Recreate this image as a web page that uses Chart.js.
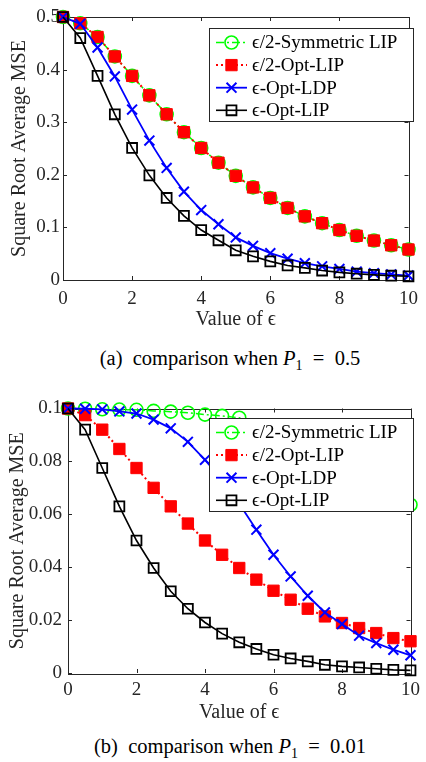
<!DOCTYPE html>
<html><head><meta charset="utf-8">
<script src="https://cdn.jsdelivr.net/npm/chart.js@4.4.0/dist/chart.umd.min.js"></script>
<style>
html,body{margin:0;padding:0;background:#fff;width:426px;height:762px;overflow:hidden;position:relative}
.wrap{position:absolute;left:0;width:426px}
.cap{position:absolute;left:0;width:460px;text-align:center;font-family:"Liberation Serif","DejaVu Serif",serif;font-size:20.5px;color:#000;white-space:nowrap}
.cap sub{font-size:14px}
</style></head><body>
<div class="wrap" style="top:0;height:340px"><canvas id="c1" width="426" height="340"></canvas></div>
<div class="cap" style="top:347px">(a)&nbsp; comparison when <i>P</i><sub>1</sub>&nbsp; =&nbsp; 0.5</div>
<div class="wrap" style="top:390px;height:345px"><canvas id="c2" width="426" height="345"></canvas></div>
<div class="cap" style="top:735px">(b)&nbsp; comparison when <i>P</i><sub>1</sub>&nbsp; =&nbsp; 0.01</div>
<script>
// ---- data ----
const epsilon = [0,0.5,1,1.5,2,2.5,3,3.5,4,4.5,5,5.5,6,6.5,7,7.5,8,8.5,9,9.5,10];
const seriesNames = ['\u03F5/2-Symmetric LIP','\u03F5/2-Opt-LIP','\u03F5-Opt-LDP','\u03F5-Opt-LIP'];
const xTicks = [0,2,4,6,8,10];
const xTickLabels = ['0','2','4','6','8','10'];

// (a) P1 = 0.5
const symLipA = [0.5,0.488,0.462,0.425,0.388,0.351,0.315,0.281,0.251,0.223,0.198,0.176,0.156,0.137,0.121,0.108,0.095,0.084,0.075,0.066,0.058];
const optLipHalfA = [0.5,0.488,0.462,0.425,0.388,0.351,0.315,0.281,0.251,0.223,0.198,0.176,0.156,0.137,0.121,0.108,0.095,0.084,0.075,0.066,0.058];
const optLdpA = [0.5,0.487,0.442,0.387,0.324,0.265,0.213,0.168,0.133,0.106,0.081,0.065,0.051,0.0405,0.032,0.026,0.021,0.016,0.013,0.0105,0.0085];
const optLipA = [0.5,0.46,0.388,0.315,0.251,0.199,0.156,0.122,0.095,0.0755,0.0565,0.045,0.0354,0.0277,0.023,0.018,0.0145,0.012,0.0098,0.0082,0.007];
const yTicksA = [0,0.1,0.2,0.3,0.4,0.5];
const yTickLabelsA = ['0','0.1','0.2','0.3','0.4','0.5'];

// (b) P1 = 0.01
const symLipB = [0.1,0.0999,0.0997,0.0996,0.0995,0.0991,0.0988,0.0984,0.0977,0.0972,0.0965,0.0936,0.092,0.0898,0.0873,0.084,0.0806,0.077,0.073,0.0685,0.0636];
const optLipHalfB = [0.1,0.0975,0.092,0.0847,0.0775,0.070,0.063,0.0565,0.0501,0.0447,0.0397,0.0353,0.0311,0.0277,0.0243,0.0214,0.0189,0.017,0.0151,0.0132,0.012];
const optLdpB = [0.1,0.0999,0.0997,0.0989,0.0981,0.0958,0.0925,0.0874,0.0806,0.073,0.064,0.0542,0.0447,0.0365,0.0292,0.0229,0.0185,0.0141,0.0113,0.0088,0.0067];
const optLipB = [0.1,0.092,0.0775,0.063,0.0501,0.0397,0.0309,0.0243,0.0191,0.0149,0.0116,0.0091,0.0069,0.0055,0.0044,0.0031,0.0025,0.0021,0.0016,0.0012,0.001];
const yTicksB = [0,0.02,0.04,0.06,0.08,0.1];
const yTickLabelsB = ['0','0.02','0.04','0.06','0.08','0.1'];

// ---- rendering ----
const FAMILY = "'Liberation Serif','DejaVu Serif',serif";
const AXC = '#262626';
const styles = [
  {color:'#00ff00', dash:[8,3,2,3], width:1.5, point:'circle', radius:6.5, pbw:1.6, fill:'rgba(0,0,0,0)', order:4},
  {color:'#ff0000', dash:[2,3], width:2, point:'rect', radius:8, pbw:1, fill:'#ff0000', order:3},
  {color:'#0000ff', dash:[], width:1.8, point:'crossRot', radius:7, pbw:2, fill:'rgba(0,0,0,0)', order:2},
  {color:'#000000', dash:[], width:1.6, point:'rect', radius:7, pbw:1.8, fill:'rgba(0,0,0,0)', order:1}
];

const matlabFrame = {
  id:'matlabFrame',
  beforeDatasetsDraw(chart){
    const {ctx, chartArea:a, scales:{x, y}} = chart;
    const o = chart.options.plugins.matlabFrame;
    ctx.save();
    ctx.strokeStyle = AXC; ctx.lineWidth = 1;
    ctx.strokeRect(Math.round(a.left)+0.5, Math.round(a.top)+0.5, Math.round(a.right-a.left), Math.round(a.bottom-a.top));
    ctx.beginPath();
    o.xt.forEach(v=>{const p=Math.round(x.getPixelForValue(v))+0.5; ctx.moveTo(p,a.bottom); ctx.lineTo(p,a.bottom-4); ctx.moveTo(p,a.top); ctx.lineTo(p,a.top+4);});
    o.yt.forEach(v=>{const p=Math.round(y.getPixelForValue(v))+0.5; ctx.moveTo(a.left,p); ctx.lineTo(a.left+4,p); ctx.moveTo(a.right,p); ctx.lineTo(a.right-4,p);});
    ctx.stroke();
    ctx.restore();
  },
  afterDatasetsDraw(chart){
    const {ctx} = chart;
    const b = chart.options.plugins.matlabFrame.legend;
    ctx.save();
    ctx.fillStyle = '#fff';
    ctx.fillRect(b.x, b.y, b.w, b.h);
    ctx.strokeStyle = AXC; ctx.lineWidth = 1;
    ctx.strokeRect(b.x+0.5, b.y+0.5, b.w, b.h);
    chart.data.datasets.forEach((ds, i) => {
      const s = styles[i];
      const cy = b.y + 14.5 + i*22.6;
      ctx.save();
      ctx.strokeStyle = s.color; ctx.lineWidth = s.width; ctx.setLineDash(s.dash);
      ctx.beginPath(); ctx.moveTo(b.x+7, cy); ctx.lineTo(b.x+38, cy); ctx.stroke();
      ctx.setLineDash([]);
      ctx.fillStyle = s.fill; ctx.strokeStyle = s.color; ctx.lineWidth = s.pbw;
      Chart.helpers.drawPoint(ctx, {pointStyle:s.point, radius:s.radius, rotation:0, borderWidth:s.pbw}, b.x+22.5, cy);
      ctx.restore();
      ctx.fillStyle = '#000';
      ctx.font = '19px ' + FAMILY;
      ctx.textBaseline = 'middle'; ctx.textAlign = 'left';
      ctx.fillText(ds.label, b.x+43, cy+1);
    });
    ctx.restore();
  }
};

function makeChart(id, seriesList, yTicks, yLabels, cfg){
  const datasets = seriesList.map((vals, i) => {
    const s = styles[i];
    return {
      label: seriesNames[i],
      data: epsilon.map((e, k) => ({x:e, y:vals[k]})),
      borderColor: s.color, borderWidth: s.width, borderDash: s.dash,
      pointStyle: s.point, pointRadius: s.radius, pointBorderWidth: s.pbw,
      pointBorderColor: s.color, pointBackgroundColor: s.fill,
      pointHoverRadius: s.radius, tension: 0, fill: false, clip: false, order: s.order
    };
  });
  return new Chart(document.getElementById(id), {
    type: 'line',
    data: {datasets},
    plugins: [matlabFrame],
    options: {
      responsive: false, animation: false, devicePixelRatio: 1,
      layout: {padding: {left: 0, right: 12, top: cfg.top, bottom: 0}},
      plugins: {legend: {display: false}, tooltip: {enabled: false},
        matlabFrame: {xt: xTicks, yt: yTicks, legend: {x:209, y:28, w:204, h:93}}},
      scales: {
        x: {
          type: 'linear', min: 0, max: 10,
          afterBuildTicks: sc => { sc.ticks = xTicks.map(v => ({value: v})); },
          afterFit: sc => { sc.height = cfg.xh; },
          grid: {display: false, drawTicks: false}, border: {display: false},
          ticks: {color: AXC, padding: cfg.xpad, maxRotation: 0, autoSkip: false,
            font: {family: FAMILY, size: 19},
            callback: v => xTickLabels[xTicks.indexOf(v)] },
          title: {display: true, text: 'Value of \u03F5', color: AXC,
            font: {family: FAMILY, size: 20}, padding: {top: 0, bottom: cfg.xtpad}}
        },
        y: {
          type: 'linear', min: 0, max: yTicks[yTicks.length-1],
          afterBuildTicks: sc => { sc.ticks = yTicks.map(v => ({value: v})); },
          afterFit: sc => { sc.width = cfg.yw; },
          grid: {display: false, drawTicks: false}, border: {display: false},
          ticks: {color: AXC, padding: cfg.ypad, autoSkip: false,
            font: {family: FAMILY, size: 19},
            callback: v => { const k = yTicks.findIndex(t => Math.abs(t - v) < 1e-9); return yLabels[k]; } },
          title: {display: true, text: 'Square Root Average MSE', color: AXC,
            font: {family: FAMILY, size: 20}, padding: {top: cfg.ytpad, bottom: 0}}
        }
      }
    }
  });
}

makeChart('c1', [symLipA, optLipHalfA, optLdpA, optLipA], yTicksA, yTickLabelsA,
  {top: 17, xh: 60, xpad: 8, xtpad: 8, yw: 63, ypad: 3, ytpad: 8});
makeChart('c2', [symLipB, optLipHalfB, optLdpB, optLipB], yTicksB, yTickLabelsB,
  {top: 18.5, xh: 62, xpad: 6, xtpad: 10.5, yw: 68, ypad: 6, ytpad: 6});
</script>
</body></html>
